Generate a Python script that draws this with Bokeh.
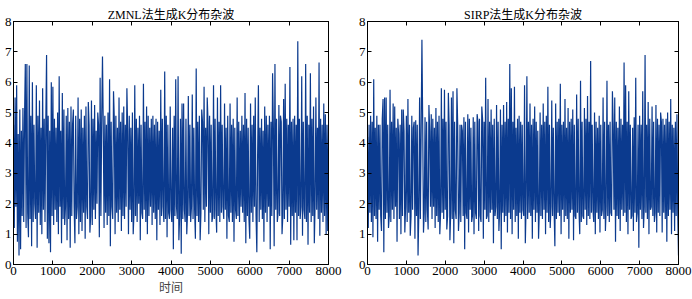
import numpy as np
from bokeh.plotting import figure
from bokeh.layouts import row
from bokeh.models import LinearAxis, Range1d, FixedTicker
from bokeh.embed import file_html
from bokeh.resources import INLINE

# ---- data (one sample every 20 time units) ----
sample_step = 20
zmnl_values = [
    4.6, 1.2, 5.5, 1.9, 5.9, 0.75, 4.3, 0.3, 5.1, 0.5, 4.4, 1.6, 5.15, 1.4, 4.8, 6.6, 1.2, 6.6, 1.7, 0.9,
    6.55, 1.5, 4.9, 0.6, 6.0, 1.4, 4.6, 2.0, 1.5, 5.9, 0.55, 4.9, 1.7, 5.4, 1.3, 4.5, 1.0, 5.8, 1.8, 4.8,
    1.4, 4.6, 6.9, 0.85, 4.9, 0.7, 4.4, 0.4, 6.0, 1.6, 5.85, 1.3, 4.8, 1.8, 4.5, 1.4, 5.0, 1.0, 6.2, 1.9,
    4.4, 0.7, 5.65, 1.5, 5.1, 1.3, 1.9, 4.9, 0.8, 5.15, 1.5, 4.7, 0.55, 5.2, 1.6, 4.6, 5.1, 1.9, 0.7, 4.9,
    1.5, 1.9, 5.5, 1.0, 4.8, 1.4, 5.1, 1.1, 4.5, 1.7, 4.9, 0.85, 5.2, 1.9, 1.5, 5.35, 4.6, 1.05, 1.6, 5.4,
    1.3, 4.8, 1.8, 5.25, 1.5, 4.4, 2.0, 5.0, 4.6, 0.9, 6.15, 1.6, 4.8, 6.85, 4.5, 1.2, 4.9, 1.7, 4.6, 1.3,
    5.0, 1.6, 6.1, 0.6, 4.7, 1.9, 1.5, 5.7, 4.8, 1.0, 4.9, 1.7, 4.5, 1.4, 5.5, 1.8, 4.7, 1.1, 5.0, 1.6,
    5.2, 1.5, 4.6, 1.9, 5.8, 4.4, 1.0, 4.9, 1.8, 4.5, 1.4, 5.0, 1.0, 1.7, 5.9, 1.6, 4.8, 1.4, 4.5, 2.0,
    4.9, 0.8, 4.6, 1.7, 1.5, 5.95, 1.8, 4.7, 1.4, 5.2, 1.0, 4.9, 1.6, 4.5, 1.9, 4.8, 1.3, 4.9, 1.7, 4.6,
    1.5, 4.8, 0.8, 4.7, 1.8, 4.4, 1.3, 5.75, 1.6, 4.8, 1.9, 1.4, 6.35, 1.5, 4.9, 0.9, 4.6, 1.7, 1.5, 5.2,
    1.8, 1.4, 4.5, 0.5, 4.9, 1.6, 6.1, 1.9, 1.5, 6.2, 0.8, 1.6, 4.8, 0.35, 5.3, 1.5, 5.3, 1.8, 1.4, 4.8,
    1.0, 1.7, 5.55, 1.6, 4.6, 1.4, 1.9, 5.6, 1.5, 4.5, 1.8, 0.85, 6.45, 1.6, 4.7, 1.4, 4.9, 0.8, 1.7, 5.1,
    4.7, 1.8, 5.85, 1.4, 4.5, 1.9, 5.5, 4.7, 1.0, 4.9, 1.7, 4.6, 1.4, 1.6, 5.9, 1.5, 4.8, 1.8, 1.05, 5.5,
    1.6, 4.7, 1.4, 5.9, 1.7, 4.6, 1.9, 1.5, 5.3, 1.8, 4.5, 0.85, 4.9, 1.6, 1.4, 5.3, 1.7, 4.6, 1.4, 4.8,
    0.75, 4.5, 1.8, 1.5, 5.5, 1.6, 4.7, 1.4, 4.4, 1.9, 4.9, 1.7, 4.6, 1.4, 5.65, 0.7, 4.8, 1.6, 4.5, 1.5,
    0.85, 5.3, 1.7, 4.6, 1.4, 4.9, 1.9, 5.5, 1.6, 0.4, 3.6, 5.9, 1.4, 4.5, 1.8, 4.8, 1.5, 4.4, 0.75, 5.2,
    1.7, 4.9, 1.4, 4.6, 1.9, 4.9, 0.5, 4.7, 1.6, 6.3, 4.5, 0.6, 6.6, 1.8, 4.8, 1.4, 1.7, 5.25, 1.6, 4.9,
    4.7, 1.0, 1.6, 5.45, 1.5, 5.95, 1.8, 4.8, 1.4, 4.6, 1.9, 6.5, 0.65, 4.7, 1.6, 4.8, 0.8, 4.9, 1.7, 4.6,
    0.8, 7.35, 1.6, 4.8, 1.5, 1.9, 6.2, 0.95, 4.7, 1.8, 1.5, 6.6, 1.4, 4.9, 0.65, 4.6, 1.7, 6.3, 1.4, 4.8,
    1.6, 5.2, 0.7, 2.0, 5.5, 1.8, 4.5, 1.5, 6.65, 0.95, 4.8, 1.7, 4.6, 1.4, 5.3, 1.6, 4.95, 1.0, 4.6, 1.1, 4.6,
]
sirp_values = [
    4.2, 1.2, 4.6, 1.7, 4.9, 1.4, 4.7, 0.9, 6.1, 1.6, 4.5, 1.5, 4.9, 0.75, 4.6, 1.8, 4.6, 1.6, 1.1, 4.8,
    5.45, 0.4, 5.5, 1.5, 5.5, 1.7, 4.6, 1.2, 1.6, 5.75, 1.4, 4.7, 1.8, 5.3, 1.5, 5.2, 1.9, 4.5, 0.75, 4.8,
    4.3, 1.5, 4.6, 1.0, 5.1, 1.6, 5.1, 4.4, 1.05, 1.9, 4.9, 1.4, 5.45, 1.7, 4.6, 0.95, 1.6, 4.9, 1.8, 4.5,
    4.7, 0.85, 4.75, 1.6, 4.6, 0.3, 1.7, 5.5, 1.5, 4.4, 7.4, 4.6, 1.05, 1.7, 4.85, 1.4, 4.7, 1.8, 1.15, 5.25,
    4.4, 1.9, 4.95, 1.5, 4.8, 1.9, 4.5, 1.2, 5.15, 1.6, 4.7, 1.4, 4.9, 1.0, 1.7, 5.8, 1.7, 4.8, 1.5, 5.75,
    1.8, 4.7, 1.15, 1.6, 5.65, 4.6, 0.8, 1.7, 5.5, 1.5, 5.7, 0.7, 4.7, 1.8, 1.5, 5.8, 4.6, 1.1, 1.7, 4.6,
    1.4, 4.6, 4.4, 1.6, 4.85, 0.5, 4.7, 1.7, 1.5, 4.95, 1.05, 4.8, 1.8, 4.5, 1.4, 1.6, 4.85, 1.0, 4.7, 1.7,
    1.5, 4.95, 4.7, 1.1, 4.8, 1.6, 1.4, 5.2, 4.8, 0.85, 4.7, 1.8, 6.15, 1.5, 1.6, 5.45, 1.4, 4.7, 1.7, 5.1,
    1.8, 4.6, 0.7, 4.8, 1.6, 1.9, 5.25, 1.5, 4.7, 1.1, 1.8, 5.1, 0.5, 4.6, 1.7, 5.25, 1.4, 4.7, 1.6, 5.35,
    1.05, 4.8, 1.7, 6.6, 1.5, 5.8, 1.0, 4.7, 1.8, 5.85, 1.4, 4.5, 1.6, 4.8, 0.85, 4.9, 1.7, 4.7, 1.5, 4.6,
    1.8, 1.6, 5.9, 0.7, 2.0, 6.2, 1.5, 4.7, 1.7, 5.3, 1.6, 4.6, 0.85, 4.8, 1.8, 5.2, 1.4, 4.7, 1.7, 4.4,
    0.85, 1.8, 5.0, 1.6, 4.6, 1.5, 5.3, 1.8, 4.7, 1.0, 4.9, 1.7, 5.85, 1.4, 4.6, 1.2, 1.9, 5.4, 1.6, 4.5,
    1.8, 0.6, 5.3, 1.5, 4.7, 1.7, 4.8, 1.6, 5.95, 1.0, 4.6, 1.8, 4.7, 1.4, 5.45, 1.6, 4.5, 1.5, 5.15, 0.85,
    4.7, 1.7, 4.8, 1.8, 5.1, 0.8, 4.6, 1.6, 1.5, 5.6, 1.7, 4.8, 1.8, 1.0, 6.05, 1.4, 4.7, 1.6, 1.5, 5.15,
    1.8, 4.8, 1.3, 5.55, 1.6, 4.7, 1.5, 6.7, 1.7, 4.6, 1.8, 1.4, 5.0, 1.0, 4.7, 1.7, 4.5, 1.5, 4.9, 1.05,
    4.6, 1.6, 1.8, 5.5, 1.5, 4.7, 1.1, 1.9, 6.05, 1.6, 4.6, 1.4, 4.7, 1.7, 1.6, 5.7, 4.6, 1.8, 5.5, 0.75,
    4.7, 1.6, 4.5, 1.5, 5.2, 1.1, 4.8, 1.8, 4.6, 1.6, 6.65, 1.7, 5.9, 1.4, 4.7, 1.0, 5.7, 1.8, 4.6, 1.5,
    1.6, 4.5, 1.1, 4.85, 1.7, 6.15, 1.4, 1.7, 4.6, 0.55, 4.9, 1.8, 4.6, 1.5, 5.7, 1.2, 1.9, 6.9, 1.7, 4.6,
    1.5, 5.35, 1.0, 4.8, 1.8, 1.9, 5.2, 1.6, 4.7, 1.4, 1.7, 5.25, 1.05, 4.8, 1.7, 4.6, 1.6, 5.0, 4.7, 1.05,
    4.8, 1.7, 4.6, 1.5, 4.8, 0.75, 5.0, 1.6, 4.7, 1.8, 5.45, 1.0, 4.6, 1.7, 4.5, 1.1, 4.7, 1.6, 4.95, 1.7, 0.3,
]
x_ticks = [0, 1000, 2000, 3000, 4000, 5000, 6000, 7000, 8000]
y_ticks = [0, 1, 2, 3, 4, 5, 6, 7, 8]
titles = ["ZMNL法生成K分布杂波", "SIRP法生成K分布杂波"]
x_label = "时间"

LINE_COLOR = "#0b3a8e"
SERIF = "Liberation Serif, Noto Sans CJK SC"


def style_axis(ax, show_labels=True):
    ax.major_tick_in = 4
    ax.major_tick_out = 0
    ax.minor_tick_line_color = None
    ax.axis_line_color = "black"
    ax.major_tick_line_color = "black"
    if show_labels:
        ax.major_label_text_font = "Liberation Serif"
        ax.major_label_text_font_size = "13px"
        ax.major_label_text_color = "black"
        ax.major_label_standoff = 2
    else:
        ax.major_label_text_font_size = "1px"
        ax.major_label_text_color = None
        ax.major_label_standoff = 0


def make_panel(values, title, xlabel, width, height, bl, br, bt, bb):
    xs = np.arange(len(values)) * sample_step
    p = figure(width=width, height=height, output_backend="svg", toolbar_location=None,
               x_range=Range1d(0, 8000), y_range=Range1d(0, 8),
               min_border_left=bl, min_border_right=br, min_border_top=bt, min_border_bottom=bb,
               background_fill_color="white", border_fill_color="white")
    p.line(xs, values, line_color=LINE_COLOR, line_width=1.2)
    p.grid.visible = False
    p.outline_line_color = "black"
    p.xaxis.ticker = FixedTicker(ticks=x_ticks)
    p.yaxis.ticker = FixedTicker(ticks=y_ticks)
    style_axis(p.xaxis[0])
    style_axis(p.yaxis[0])
    if xlabel:
        p.xaxis.axis_label = xlabel
        p.xaxis.axis_label_text_font = "Noto Sans CJK SC"
        p.xaxis.axis_label_text_font_style = "normal"
        p.xaxis.axis_label_text_font_size = "12px"
        p.xaxis.axis_label_standoff = 0
    top = LinearAxis(ticker=FixedTicker(ticks=x_ticks))
    style_axis(top, show_labels=False)
    p.add_layout(top, "above")
    right = LinearAxis(ticker=FixedTicker(ticks=y_ticks))
    style_axis(right, show_labels=False)
    p.add_layout(right, "right")
    p.title.text = title
    p.title.align = "center"
    p.title.text_font = SERIF
    p.title.text_font_style = "normal"
    p.title.text_font_size = "12px"
    p.title.text_color = "black"
    p.title.standoff = 0
    return p


p1 = make_panel(zmnl_values, titles[0], x_label, 346, 299, 13, 18, 21, 32)
p2 = make_panel(sirp_values, titles[1], None, 346, 299, 21, 14, 19, 35)
layout = row(p1, p2)

open("out.html", "w").write(file_html(layout, INLINE))
